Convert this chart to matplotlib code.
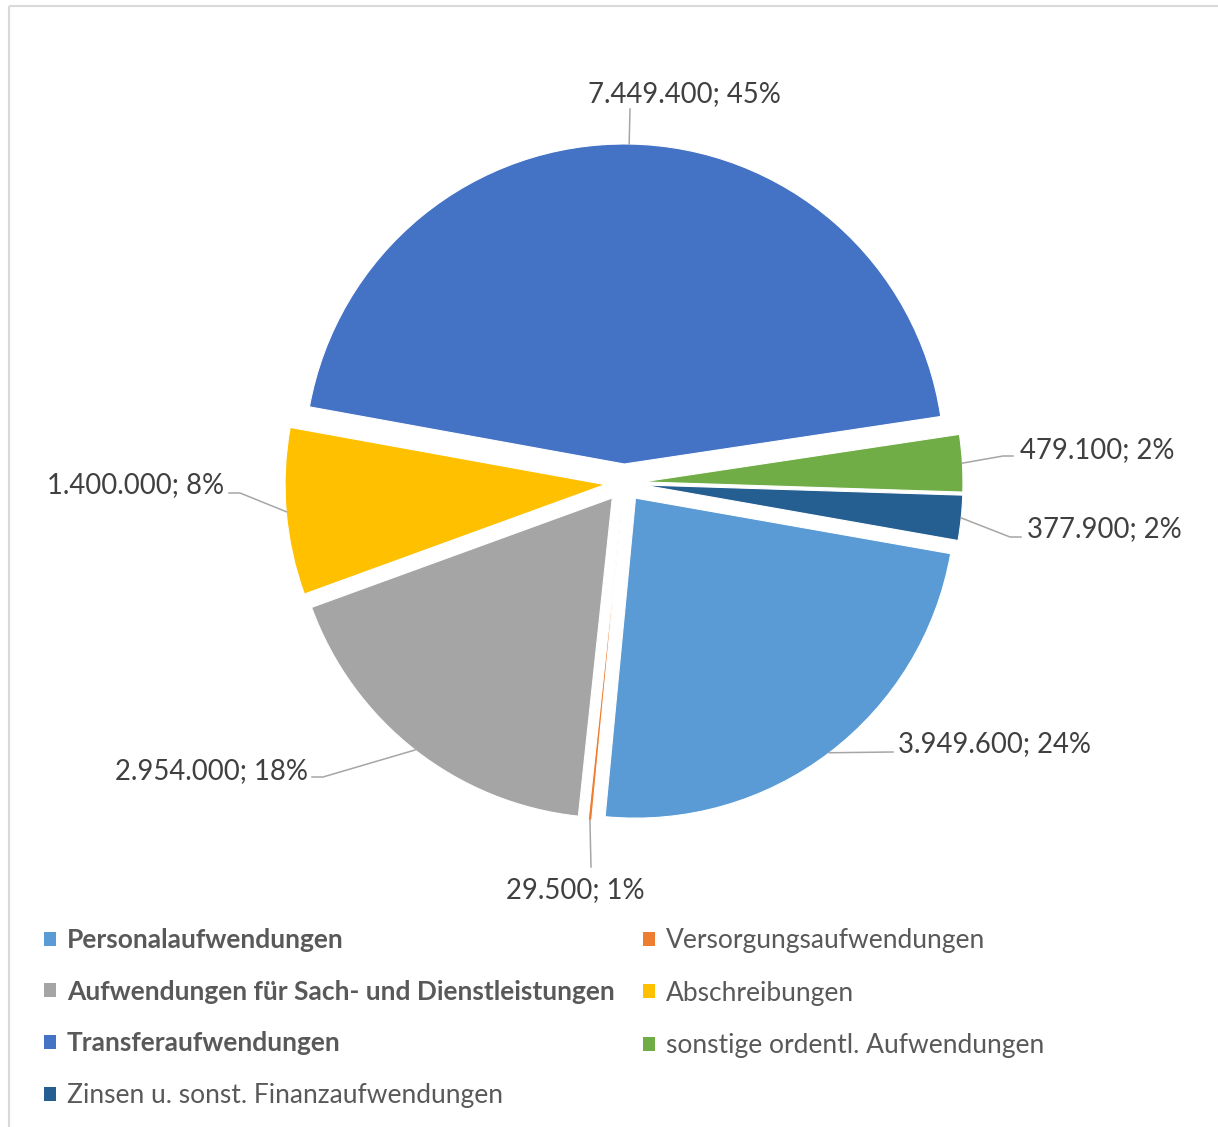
import matplotlib
matplotlib.use("Agg")
import numpy as np
import matplotlib.pyplot as plt
from matplotlib.patches import Rectangle, Patch

# chart data
categories = [
    "Personalaufwendungen",
    "Versorgungsaufwendungen",
    "Aufwendungen für Sach- und Dienstleistungen",
    "Abschreibungen",
    "Transferaufwendungen",
    "sonstige ordentl. Aufwendungen",
    "Zinsen u. sonst. Finanzaufwendungen",
]
values = [3949600, 29500, 2954000, 1400000, 7449400, 479100, 377900]
pct_labels = ["24%", "1%", "18%", "8%", "45%", "2%", "2%"]
bold_legend = [True, False, True, False, True, False, False]
colors = ["#5B9BD5", "#ED7D31", "#A5A5A5", "#FFC000", "#4472C4", "#70AD47", "#255E91"]

W, H = 1218, 1127
plt.rcParams['font.family'] = ['Lato', 'DejaVu Sans']

fig = plt.figure(figsize=(W / 100, H / 100), dpi=100)
ax = fig.add_axes([0, 0, 1, 1])

# pixel coordinates, y pointing down -> counterclock in data = clockwise on screen
wedges, _ = ax.pie(values, colors=colors, startangle=10, counterclock=True,
                   radius=320, center=(624, 483), explode=[19] * len(values),
                   wedgeprops=dict(edgecolor='white', linewidth=0.8))
ax.set_xlim(0, W)
ax.set_ylim(H, 0)
ax.set_aspect('equal')
ax.axis('off')

# data label layout: leader path points after the wedge edge, text anchor, alignment
label_layout = [
    ([(893, 752)], (898, 752), 'left'),
    ([(591, 867)], (575, 898), 'center'),
    ([(323, 777), (312, 777)], (308, 779), 'right'),
    ([(240, 493), (229, 493)], (224, 493), 'right'),
    ([(630, 109)], (684, 102), 'center'),
    ([(1003, 456), (1013, 456)], (1020, 458), 'left'),
    ([(1010, 537), (1021, 537)], (1027, 537), 'left'),
]

for w, v, pct, (path, txy, ha) in zip(wedges, values, pct_labels, label_layout):
    tm = np.deg2rad((w.theta1 + w.theta2) / 2)
    x0 = w.center[0] + w.r * np.cos(tm)
    y0 = w.center[1] + w.r * np.sin(tm)
    xs = [x0] + [p[0] for p in path]
    ys = [y0] + [p[1] for p in path]
    ax.plot(xs, ys, color='#A6A6A6', linewidth=1.1)
    txt = f"{v:,}".replace(",", ".") + "; " + pct
    ax.text(txy[0], txy[1], txt, ha=ha, va='baseline', fontsize=19.8, color='#404040')

# legend, two columns filled row-wise like the original
handles = [Patch(facecolor=c, edgecolor='none') for c in colors]
col1 = [0, 2, 4, 6]
col2 = [1, 3, 5]
legs = []
for idx, x in ((col1, 44), (col2, 643)):
    leg = ax.legend([handles[i] for i in idx], [categories[i] for i in idx],
                    loc='upper left', bbox_to_anchor=(x / W, 1 - 928 / H),
                    bbox_transform=fig.transFigure, frameon=False,
                    fontsize=19, labelcolor='#595959',
                    handlelength=0.45, handleheight=0.45, handletextpad=0.42,
                    labelspacing=1.05, borderpad=0, borderaxespad=0)
    for t, i in zip(leg.get_texts(), idx):
        if bold_legend[i]:
            t.set_fontweight('bold')
    legs.append(leg)
ax.add_artist(legs[0])

# chart area border (only top and left edge visible in the crop)
ax.add_patch(Rectangle((9, 6), W + 20, H + 20, fill=False, edgecolor='#D9D9D9',
                       linewidth=1.5, clip_on=False))

fig.savefig("out.png", dpi=100)
